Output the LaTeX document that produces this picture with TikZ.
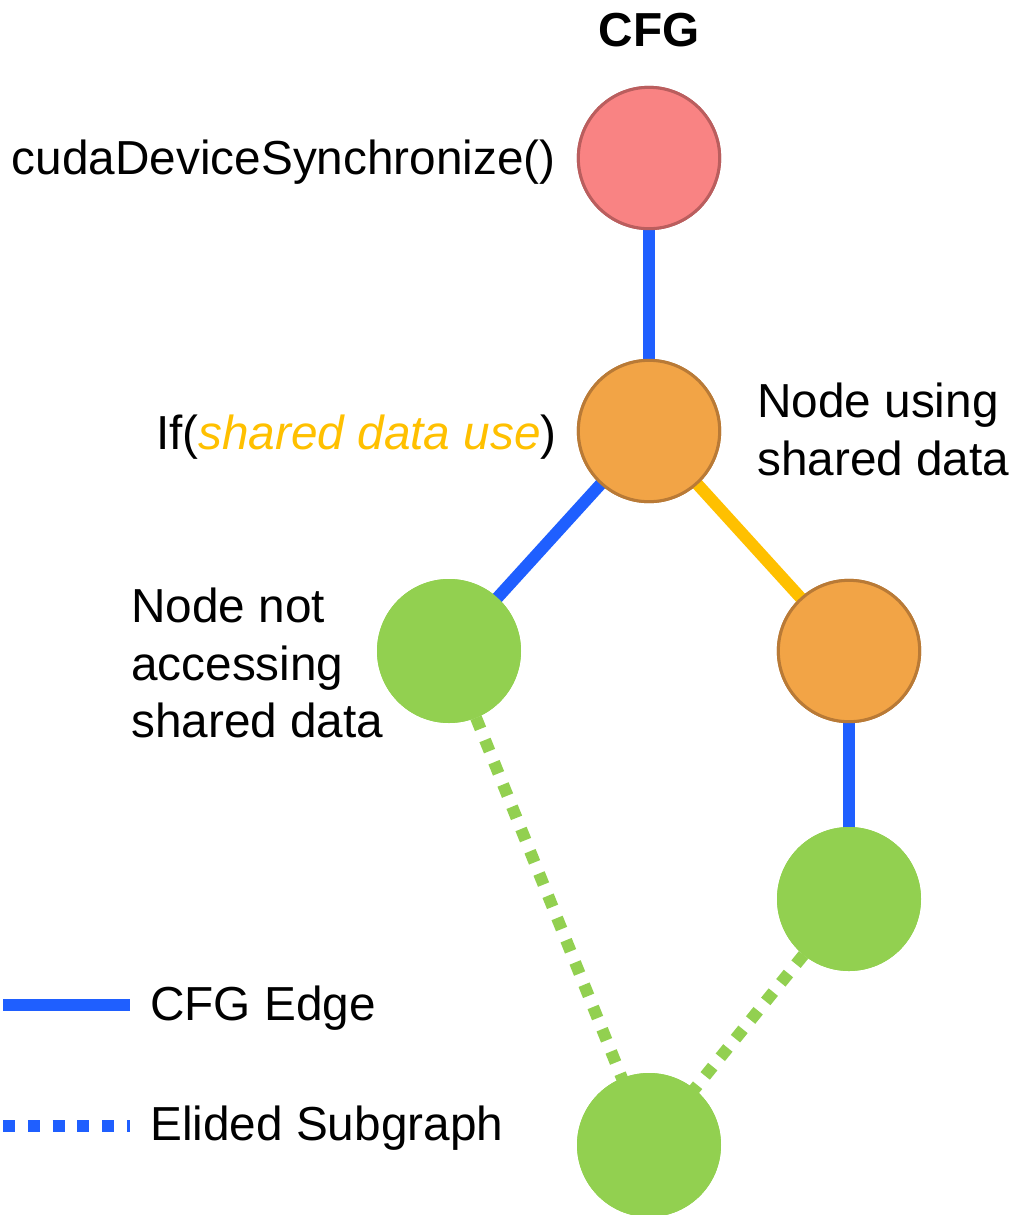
\documentclass[tikz,border=0pt]{standalone}
\usepackage{fontspec}
\setmainfont{Liberation Sans}
\definecolor{edgeblue}{HTML}{1F5FFF}
\definecolor{edgeyellow}{HTML}{FFC000}
\definecolor{nodegreen}{HTML}{92D050}
\definecolor{nodeorange}{HTML}{F2A446}
\definecolor{orangeline}{HTML}{B97A36}
\definecolor{nodepink}{HTML}{F98383}
\definecolor{pinkline}{HTML}{BA5E5E}
% one drawing unit = 0.75pt
\tikzset{
  cfgnode/.style={circle, minimum size=106pt, inner sep=0pt, line width=2.25pt},
  pinknode/.style={cfgnode, fill=nodepink, draw=pinkline},
  orangenode/.style={cfgnode, fill=nodeorange, draw=orangeline},
  greennode/.style={cfgnode, minimum size=108pt, fill=nodegreen},
  cfgedge/.style={line width=9pt, edgeblue},
  shareedge/.style={line width=9pt, edgeyellow},
  elided/.style={line width=9pt, nodegreen, dash pattern=on 9pt off 9pt},
  legendelided/.style={line width=9pt, edgeblue, dash pattern=on 9pt off 9.6pt},
  lbl/.style={font=\fontsize{35.8}{43}\selectfont, inner sep=0pt, align=left},
}
\begin{document}
\begin{tikzpicture}[x=0.75pt, y=-0.75pt]
  \useasboundingbox (0,0) rectangle (1012,1215);

  % control-flow graph nodes
  \node[pinknode]   (sync)  at (649,158)  {};
  \node[orangenode] (cond)  at (649,431)  {};
  \node[greennode]  (nouse) at (449,651)  {};
  \node[orangenode] (use)   at (849,651)  {};
  \node[greennode]  (after) at (849,899)  {};
  \node[greennode]  (join)  at (649,1145) {};

  % edges, drawn beneath the nodes
  \draw[elided] (nouse.center) -- (join.center);
  \draw[elided] (after.center) -- (join.center);
  \draw[cfgedge] (sync.center) -- (cond.center);
  \draw[cfgedge] (cond.center) -- (nouse.center);
  \draw[shareedge] (cond.center) -- (use.center);
  \draw[cfgedge] (use.center) -- (after.center);

  % redraw nodes on top of the edges
  \node[pinknode]   at (sync)  {};
  \node[orangenode] at (cond)  {};
  \node[greennode]  at (nouse) {};
  \node[orangenode] at (use)   {};
  \node[greennode]  at (after) {};
  \node[greennode]  at (join)  {};

  % labels
  \node[lbl, font=\fontsize{35.8}{43}\selectfont\bfseries, anchor=base] (title) at (649,46) {CFG};
  \node[lbl, anchor=base east] (synclbl) at (556,174) {cudaDeviceSynchronize()};
  \node[lbl, anchor=base east] (condlbl) at (557,449)
    {If(\textcolor{edgeyellow}{\itshape shared data use})};
  \node[lbl, anchor=north west] (uselbl) at (757,383) {Node using\\shared data};
  \node[lbl, anchor=north west] (nouselbl) at (131,588) {Node not\\accessing\\shared data};

  % legend
  \coordinate (solidA) at (3,1005);
  \coordinate (solidB) at (130,1005);
  \coordinate (dotA) at (3,1126);
  \coordinate (dotB) at (130,1126);
  \draw[cfgedge] (solidA) -- (solidB);
  \draw[legendelided] (dotA) -- (dotB);
  \node[lbl, anchor=base west] (leg1) at (150,1020) {CFG Edge};
  \node[lbl, anchor=base west] (leg2) at (150,1140) {Elided Subgraph};
\end{tikzpicture}
\end{document}
